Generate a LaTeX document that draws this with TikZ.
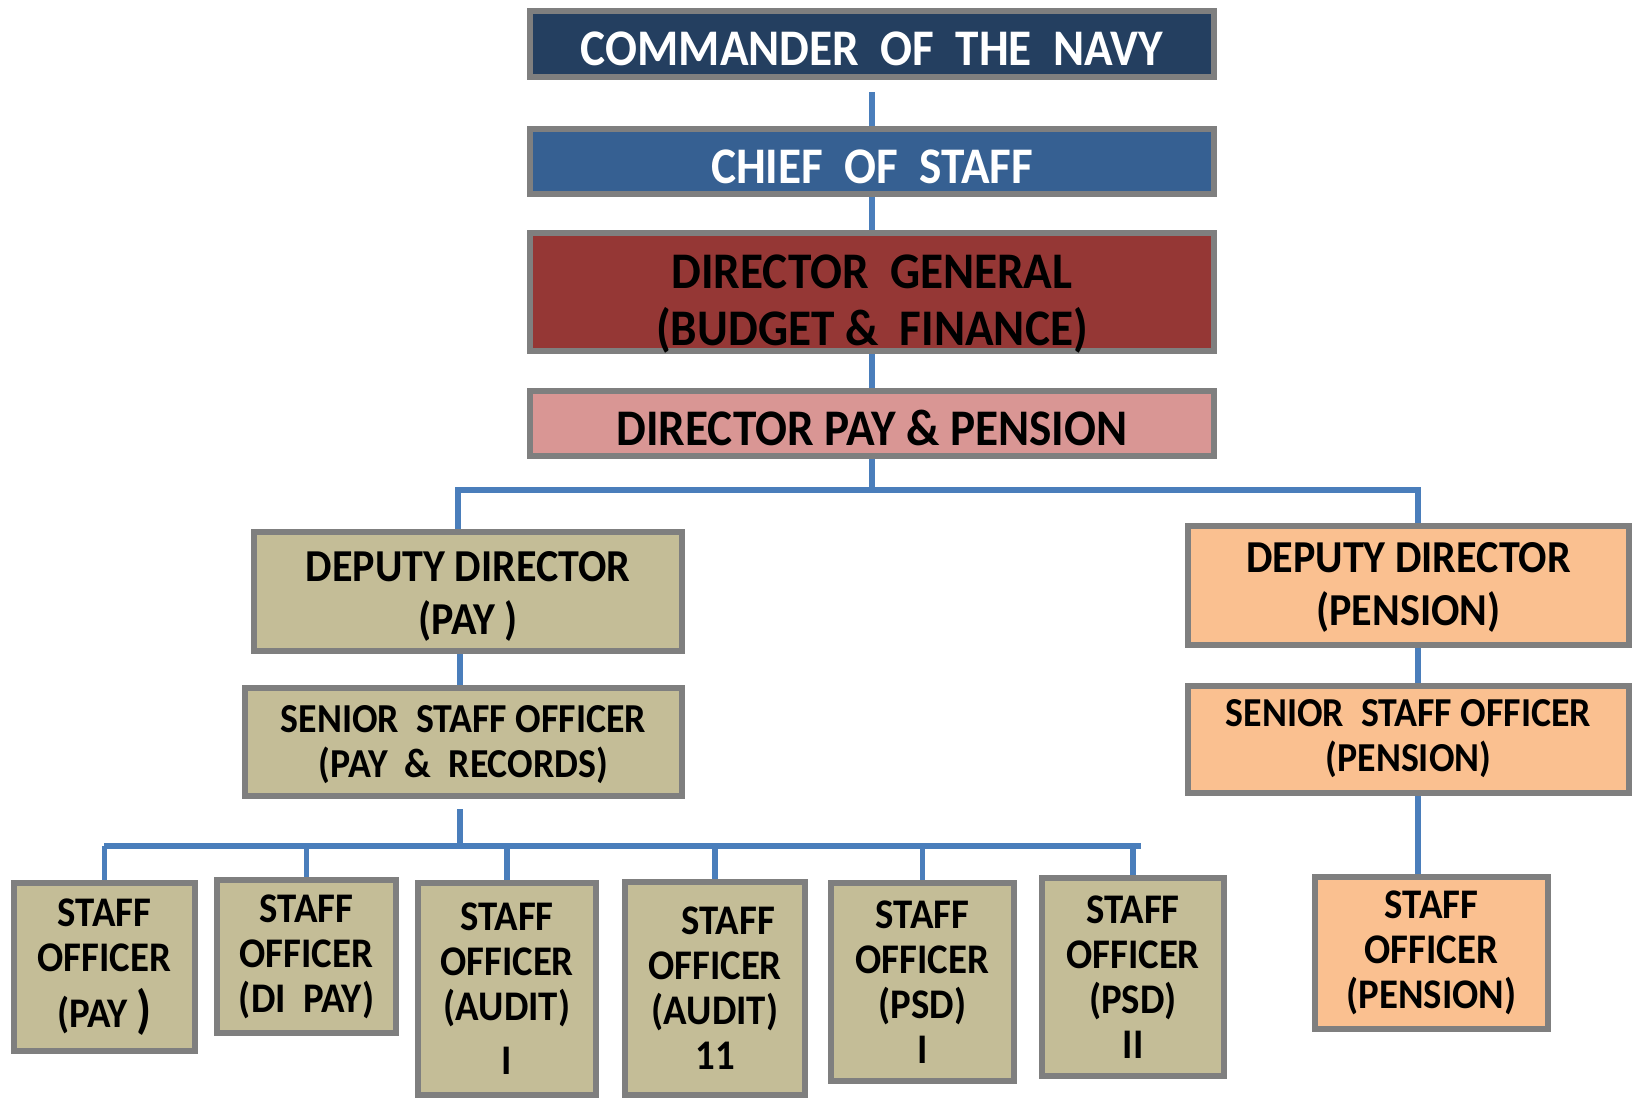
\documentclass[tikz,border=0pt]{standalone}
\usepackage{fontspec}
\setmainfont{Carlito}[FakeStretch=0.92]
\definecolor{navy}{HTML}{243F60}
\definecolor{steel}{HTML}{366092}
\definecolor{brick}{HTML}{953735}
\definecolor{rose}{HTML}{D99694}
\definecolor{khaki}{HTML}{C4BD97}
\definecolor{peach}{HTML}{FAC090}
\definecolor{frame}{HTML}{7F7F7F}
\definecolor{wire}{HTML}{4A7EBB}
\begin{document}
\begin{tikzpicture}[x=0.01cm, y=-0.01cm,
  box_style/.style={rectangle, draw=frame, line width=0.06cm, align=center, inner sep=0pt},
  head_style/.style={box_style, minimum width=6.83cm, text height=0.43cm, text depth=0pt, font=\bfseries\fontsize{14.6}{16}\selectfont},
  dd_style/.style={box_style, minimum height=1.19cm, text depth=0pt, font=\bfseries\fontsize{13}{14.8}\selectfont},
  sso_style/.style={box_style, minimum height=1.08cm, text depth=0pt, font=\bfseries\fontsize{11.7}{12.8}\selectfont},
  so_style/.style={box_style, fill=khaki, font=\bfseries\fontsize{12}{12.8}\selectfont},
  edge_style/.style={draw=wire, line width=0.055cm}]
  \useasboundingbox (0,0) rectangle (1634,1101);
  \draw
    (872, 44.0) node[head_style, fill=navy, text=white, minimum height=0.66cm] (cmd){COMMANDER\ \ OF\ \ THE\ \ NAVY}
    (872, 161.5) node[head_style, fill=steel, text=white, minimum height=0.65cm] (cos){CHIEF\ \ OF\ \ STAFF}
    (872, 292.0) node[head_style, fill=brick, minimum height=1.18cm, text height=1.06cm] (dg){DIRECTOR\ \ GENERAL\\(BUDGET \&\ \ FINANCE)}
    (872, 423.5) node[head_style, fill=rose, minimum height=0.65cm] (dpp){DIRECTOR PAY \& PENSION}
    (468, 591.5) node[dd_style, fill=khaki, minimum width=4.28cm, text height=0.85cm] (ddpay){DEPUTY DIRECTOR\\(PAY )}
    (463.5, 742.0) node[sso_style, fill=khaki, minimum width=4.37cm, text height=0.70cm] (ssopay){SENIOR\ \ STAFF OFFICER\\(PAY\ \ \&\ \ RECORDS)}
    (1408.5, 585.5) node[dd_style, fill=peach, minimum width=4.41cm, text height=0.79cm] (ddpen){DEPUTY DIRECTOR\\(PENSION)}
    (1408.5, 739.5) node[sso_style, fill=peach, minimum width=4.41cm, minimum height=1.07cm, text height=0.64cm] (ssopen){SENIOR\ \ STAFF OFFICER\\(PENSION)}
    (1431.5, 953.0) node[so_style, fill=peach, minimum width=2.33cm, minimum height=1.52cm] (sopen){STAFF\\OFFICER\\(PENSION)}
    (104.5, 967.0) node[so_style, minimum width=1.81cm, minimum height=1.68cm] (s1){STAFF\\OFFICER\\[3pt](PAY {\fontsize{15}{12.8}\selectfont)}}
    (306.5, 956.5) node[so_style, minimum width=1.79cm, minimum height=1.53cm] (s2){STAFF\\OFFICER\\(DI\ \ PAY)}
    (507.0, 989.0) node[so_style, minimum width=1.78cm, minimum height=2.12cm] (s3){STAFF\\OFFICER\\(AUDIT)\\[2.5pt]I}
    (715.0, 988.5) node[so_style, minimum width=1.80cm, minimum height=2.13cm] (s4){\ \ \ STAFF\\OFFICER\\(AUDIT)\\11}
    (922.5, 982.0) node[so_style, minimum width=1.83cm, minimum height=1.98cm] (s5){STAFF\\OFFICER\\(PSD)\\I}
    (1133.0, 977.0) node[so_style, minimum width=1.82cm, minimum height=1.98cm] (s6){STAFF\\OFFICER\\(PSD)\\II};
  % junctions of the two buses
  \coordinate (top_bus) at (872, 490);
  \coordinate (pay_top) at (458, 490);
  \coordinate (pen_top) at (1418, 490);
  \coordinate (pay_trunk) at (460, 846);
  \coordinate (bus_l) at (104, 846);
  \coordinate (bus_r) at (1141, 846);
  \begin{scope}[edge_style]
    \draw[shorten <=0.12cm] (cmd) to (cos);
    \draw (cos) to (dg);
    \draw (dg) to (dpp);
    \draw (dpp) to (top_bus);
    \draw (ddpay.north -| pay_top) -- (pay_top) -- (pen_top) -- (ddpen.north -| pen_top);
    \draw (ddpay.south -| pay_trunk) to (ssopay.north -| pay_trunk);
    \draw[shorten <=0.1cm] (ssopay.south -| pay_trunk) to (pay_trunk);
    \draw (bus_l) to (bus_r);
    \foreach \n in {s1,s2,s3,s4,s5,s6}
      \draw (\n.north |- bus_l) to (\n.north);
    \draw (ddpen.south -| pen_top) to (ssopen.north -| pen_top);
    \draw (ssopen.south -| pen_top) to (sopen.north -| pen_top);
  \end{scope}
\end{tikzpicture}
\end{document}
